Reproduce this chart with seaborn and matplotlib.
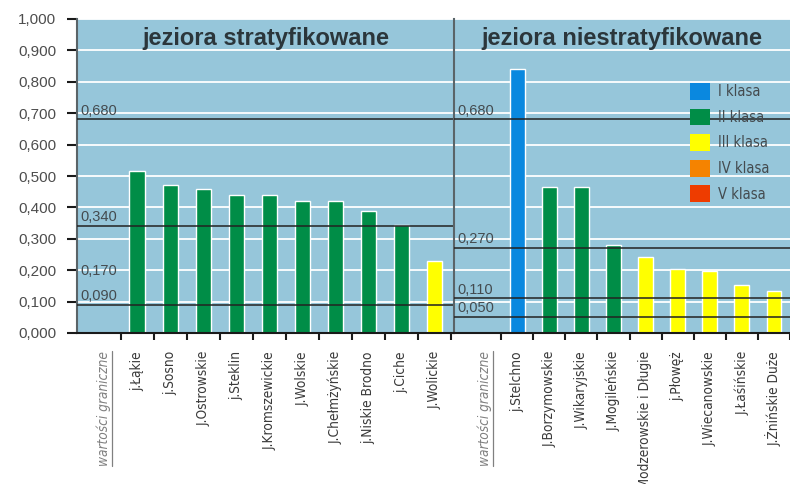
import numpy as np
import pandas as pd
import matplotlib.pyplot as plt
import seaborn as sns
from matplotlib.patches import Patch
from matplotlib.lines import Line2D
from matplotlib import transforms

sns.set_theme(style="white")
plt.rcParams['font.family'] = ['Liberation Sans', 'DejaVu Sans']

# --- data ---
left_lakes = ["wartości graniczne", "j.Łąkie", "j.Sosno", "J.Ostrowskie", "j.Steklin",
              "J.Kromszewickie", "J.Wolskie", "J.Chełmżyńskie", "j.Niskie Brodno",
              "j.Ciche", "J.Wolickie"]
left_values = [np.nan, 0.516, 0.471, 0.459, 0.440, 0.440, 0.420, 0.420, 0.389, 0.344, 0.229]
left_class = ["II", "II", "II", "II", "II", "II", "II", "II", "II", "II", "III"]
left_limits = [0.680, 0.340, 0.090]
left_limit_labels = [0.680, 0.340, 0.170, 0.090]

right_lakes = ["wartości graniczne", "j.Stelchno", "J.Borzymowskie", "J.Wikaryjskie",
               "J.Mogileńskie", "J.Modzerowskie i Długie", "j.Płowęż", "J.Wiecanowskie",
               "J.Łaśińskie", "J.Żnińskie Duże"]
right_values = [np.nan, 0.841, 0.465, 0.465, 0.280, 0.242, 0.203, 0.197, 0.153, 0.134]
right_class = ["I", "I", "II", "II", "II", "III", "III", "III", "III", "III"]
right_limits = [0.680, 0.270, 0.110, 0.050]

classes = ["I", "II", "III", "IV", "V"]
class_labels = ["I klasa", "II klasa", "III klasa", "IV klasa", "V klasa"]
class_colors = ["#0a88df", "#008d47", "#ffff00", "#f58300", "#ee3c00"]
palette = dict(zip(classes, class_colors))

titles = ["jeziora stratyfikowane", "jeziora niestratyfikowane"]

bg = "#96c6da"
txt = "#444b4f"

fig = plt.figure(figsize=(7.9, 4.84), dpi=100)
ax1 = fig.add_axes([77 / 790, 151 / 484, 377 / 790, 314 / 484])
ax2 = fig.add_axes([454 / 790, 151 / 484, 336 / 790, 314 / 484], sharey=ax1)

panels = [
    (ax1, left_lakes, left_values, left_class, left_limits, (-0.82, 10.6), titles[0]),
    (ax2, right_lakes, right_values, right_class, right_limits, (-0.97, 9.29), titles[1]),
]

for ax, lakes, vals, cls, limits, xlim, title in panels:
    df = pd.DataFrame({"jezioro": lakes, "wartosc": vals, "klasa": cls})
    sns.barplot(data=df, x="jezioro", y="wartosc", hue="klasa", order=lakes,
                hue_order=classes, palette=palette, dodge=False, width=0.46,
                saturation=1, errorbar=None, legend=False, ax=ax)
    ax.set_facecolor(bg)
    ax.set_xlim(*xlim)
    ax.set_ylim(0, 1.0)
    ax.set_yticks(np.arange(0, 1.01, 0.1))
    ax.grid(axis="y", color="white", lw=1.3)
    ax.set_axisbelow(True)
    ax.set_xlabel("")
    ax.set_ylabel("")
    for s in ["top", "right"]:
        ax.spines[s].set_visible(False)
    ax.spines["bottom"].set_color("#1a1a1a")
    ax.spines["bottom"].set_linewidth(1.5)
    ax.spines["left"].set_color("#5a6468")
    ax.spines["left"].set_linewidth(1.5)

    # limit lines
    for v in limits:
        ax.axhline(v, color="#222222", lw=1.1, zorder=3)

    # category boundary ticks
    ax.set_xticks(np.arange(len(lakes)) + 0.5, minor=True)
    ax.tick_params(axis="x", which="minor", length=5, width=1.5, color="#1a1a1a",
                   direction="out", bottom=True)
    ax.tick_params(axis="x", which="major", length=0, pad=13)
    ax.set_xticks(range(len(lakes)))
    ax.set_xticklabels(lakes, rotation=90, va="top", ha="center",
                       fontsize=9.8, color="#3a3a3a", family="DejaVu Sans",
                       fontstretch="condensed")
    first = ax.get_xticklabels()[0]
    first.set_style("italic")
    first.set_color("#808080")

    ax.text(0.5, 0.975, title, transform=ax.transAxes, ha="center", va="top",
            fontsize=17, fontweight="bold", color="#2b363b")

ax1.yaxis.set_major_formatter(lambda v, p: f"{v:.3f}".replace(".", ","))
ax1.tick_params(axis="y", length=7, width=1.5, color="#1a1a1a", labelsize=11,
                labelcolor="#4d4d4d", left=True, pad=8)
ax2.tick_params(axis="y", left=False, labelleft=False)

# limit labels
t1 = transforms.blended_transform_factory(ax1.transAxes, ax1.transData)
for v in left_limit_labels:
    ax1.text(0.008, v + 0.006, f"{v:.3f}".replace(".", ","), transform=t1,
             fontsize=10.5, color=txt, va="bottom", ha="left", zorder=4)
t2 = transforms.blended_transform_factory(ax2.transAxes, ax2.transData)
for v in right_limits:
    ax2.text(0.009, v + 0.006, f"{v:.3f}".replace(".", ","), transform=t2,
             fontsize=10.5, color=txt, va="bottom", ha="left", zorder=4)

# legend
handles = [Patch(facecolor=c, edgecolor="none") for c in class_colors]
leg = ax2.legend(handles, class_labels, loc="upper left", bbox_to_anchor=(690 / 790, 1 - 83 / 484),
                 bbox_transform=fig.transFigure, frameon=False, fontsize=10.5,
                 handlelength=1.4, handleheight=1.4, labelspacing=0.6, handletextpad=0.55,
                 borderpad=0, borderaxespad=0, labelcolor=txt)
for t in leg.get_texts():
    t.set_family("DejaVu Sans")
    t.set_stretch("condensed")

# underline for "wartości graniczne"
fig.canvas.draw()
renderer = fig.canvas.get_renderer()
for ax in [ax1, ax2]:
    bb = ax.get_xticklabels()[0].get_window_extent(renderer)
    x = (bb.x1 + 1) / fig.bbox.width
    fig.add_artist(Line2D([x, x], [bb.y0 / fig.bbox.height, bb.y1 / fig.bbox.height],
                          transform=fig.transFigure, color="#808080", lw=0.9))

fig.savefig("out.png", dpi=100)
